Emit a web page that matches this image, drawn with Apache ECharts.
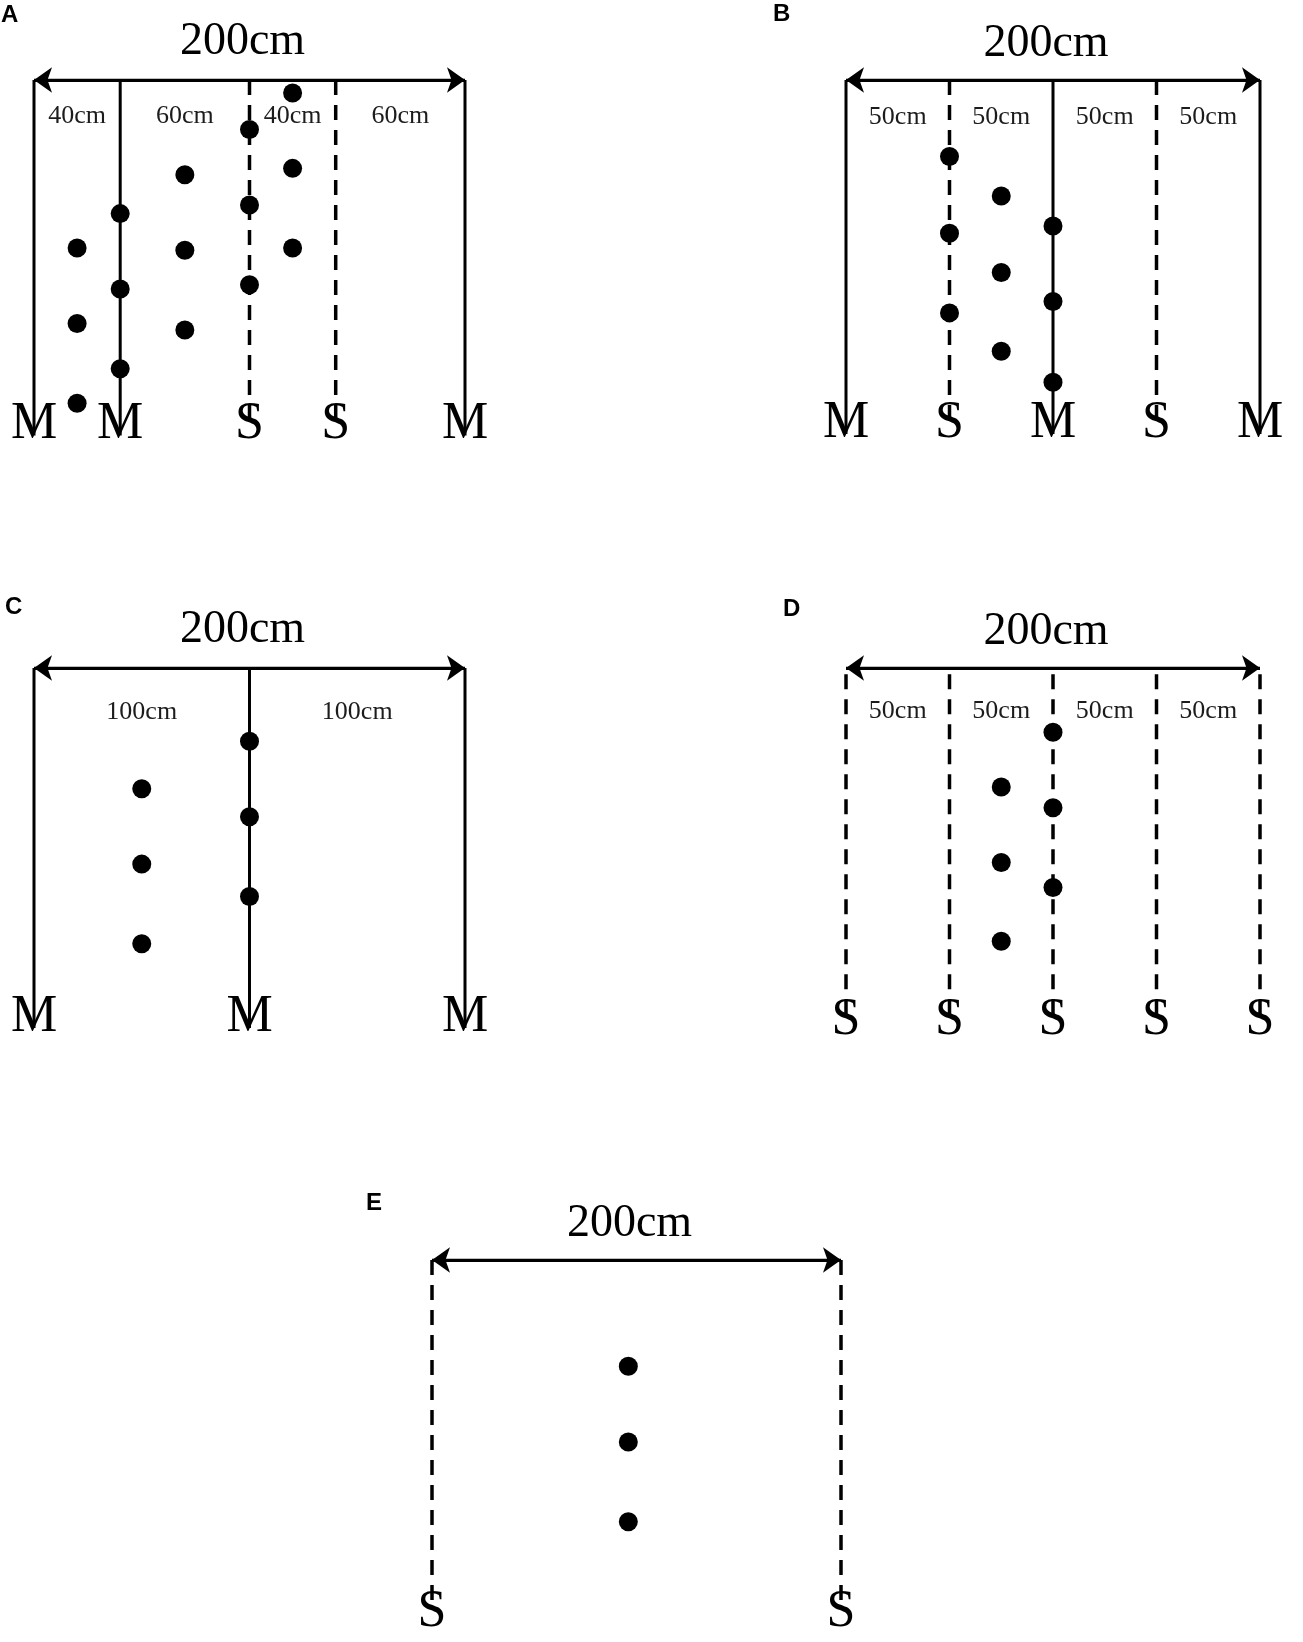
<!DOCTYPE html>
<html>
<head>
<meta charset="utf-8">
<script src="https://cdn.jsdelivr.net/npm/echarts@6/dist/echarts.min.js"></script>
<style>
html, body { margin: 0; padding: 0; background: #fff; }
#chart { width: 1303px; height: 1642px; }
</style>
</head>
<body>
<div id="chart"></div>
<script>
// planting layouts, all x positions in cm across a 200 cm strip
var spanTitle = '200cm';

var rowsA = [0, 40, 100, 140, 200];
var typesA = ['M', 'M', 'S', 'S', 'M'];
var spansA = ['40cm', '60cm', '40cm', '60cm'];
var dotsA = [[20, 78], [20, 113], [20, 150], [40, 62], [40, 97], [40, 134],
    [70, 44], [70, 79], [70, 116], [100, 23], [100, 58], [100, 95],
    [120, 6], [120, 41], [120, 78]];

var rowsB = [0, 50, 100, 150, 200];
var typesB = ['M', 'S', 'M', 'S', 'M'];
var spansB = ['50cm', '50cm', '50cm', '50cm'];
var dotsB = [[50, 37], [50, 74], [50, 112.5], [75, 56], [75, 93], [75, 131],
    [100, 70.5], [100, 107], [100, 146]];

var rowsC = [0, 100, 200];
var typesC = ['M', 'M', 'M'];
var spansC = ['100cm', '100cm'];
var dotsC = [[100, 34], [100, 69], [100, 106], [50, 56], [50, 91], [50, 128]];

var rowsD = [0, 50, 100, 150, 200];
var typesD = ['S', 'S', 'S', 'S', 'S'];
var spansD = ['50cm', '50cm', '50cm', '50cm'];
var dotsD = [[100, 31], [100, 67.5], [100, 106], [75, 57.5], [75, 94], [75, 132]];

var rowsE = [0, 200];
var typesE = ['S', 'S'];
var spansE = [];
var dotsE = [[96, 52], [96, 89], [96, 128]];

var panels = [
    { name: 'A', rows: rowsA, types: typesA, spans: spansA, dots: dotsA },
    { name: 'B', rows: rowsB, types: typesB, spans: spansB, dots: dotsB },
    { name: 'C', rows: rowsC, types: typesC, spans: spansC, dots: dotsC },
    { name: 'D', rows: rowsD, types: typesD, spans: spansD, dots: dotsD },
    { name: 'E', rows: rowsE, types: typesE, spans: spansE, dots: dotsE }
];

// where each panel sits on the page
var layouts = [
    { left: 34, top: 80, width: 431, labelY: 160, spanY: 17, lineStart: 0, letter: [1, 3] },
    { left: 846, top: 80, width: 414, labelY: 166, spanY: 18, lineStart: 0, letter: [773, 2] },
    { left: 34, top: 668, width: 431, labelY: 162, spanY: 20.5, lineStart: 0, letter: [5, 595] },
    { left: 846, top: 668, width: 414, labelY: 170, spanY: 21, lineStart: 3, letter: [783, 597] },
    { left: 432, top: 1260, width: 409, labelY: 172.5, spanY: 20, lineStart: 0, letter: [366, 1191] }
];

var serif = '"Liberation Serif", "Times New Roman", serif';
var Y_MAX = 180;

var grids = [], xAxes = [], yAxes = [], series = [], graphics = [];

panels.forEach(function (p, i) {
    var lay = layouts[i];
    grids.push({
        left: lay.left, top: lay.top, width: lay.width,
        height: Y_MAX * lay.width / 200
    });
    xAxes.push({ type: 'value', gridIndex: i, min: 0, max: 200, show: false });
    yAxes.push({ type: 'value', gridIndex: i, min: 0, max: Y_MAX, inverse: true, show: false });

    // row lines: solid for M, dashed for S
    p.rows.forEach(function (x, k) {
        var isM = p.types[k] === 'M';
        var start = isM ? 0 : lay.lineStart;
        var end = isM ? lay.labelY + 5 : lay.labelY - 2;
        series.push({
            type: 'line',
            xAxisIndex: i, yAxisIndex: i,
            data: [[x, start], [x, end]],
            symbol: 'none',
            silent: true,
            z: 2,
            lineStyle: {
                color: '#000',
                width: isM ? 3 : 3.5,
                type: isM ? 'solid' : [15, 10]
            }
        });
    });

    // the 200 cm double arrow
    series.push({
        type: 'line',
        xAxisIndex: i, yAxisIndex: i,
        data: [[0, 0], [200, 0]],
        symbol: 'none',
        silent: true,
        z: 3,
        lineStyle: { color: '#000', width: 3 },
        markLine: {
            silent: true,
            symbol: ['arrow', 'arrow'],
            symbolSize: [19, 18],
            symbolOffset: [0, 0],
            label: { show: false },
            lineStyle: { color: '#000', width: 3, type: 'solid', opacity: 1 },
            data: [[{ coord: [0, 0] }, { coord: [200, 0] }]]
        }
    });

    // plants
    series.push({
        type: 'scatter',
        xAxisIndex: i, yAxisIndex: i,
        data: p.dots,
        symbol: 'circle',
        symbolSize: 19,
        silent: true,
        z: 4,
        itemStyle: { color: '#000', opacity: 1 }
    });

    // texts: row letters, spacing labels, total width
    var texts = [];
    p.rows.forEach(function (x, k) {
        texts.push({ value: [x, lay.labelY], name: p.types[k], size: 52, color: '#000' });
    });
    p.spans.forEach(function (s, k) {
        var mid = (p.rows[k] + p.rows[k + 1]) / 2;
        texts.push({ value: [mid, lay.spanY], name: s, size: 26, color: '#1c1c1c' });
    });
    texts.push({ value: [100, -17.5], name: spanTitle, size: 46, color: '#000', dx: -7 });

    series.push({
        type: 'scatter',
        xAxisIndex: i, yAxisIndex: i,
        clip: false,
        silent: true,
        symbolSize: 0,
        z: 5,
        itemStyle: { color: 'rgba(0,0,0,0)', opacity: 1 },
        data: texts.map(function (t) {
            return {
                value: t.value,
                name: t.name,
                label: {
                    show: true,
                    position: 'inside',
                    offset: [t.dx || 0, 0],
                    formatter: '{b}',
                    fontFamily: serif,
                    fontSize: t.size,
                    color: t.color,
                    opacity: 1
                }
            };
        })
    });

    graphics.push({
        type: 'text',
        left: lay.letter[0],
        top: lay.letter[1],
        style: {
            text: p.name,
            font: 'bold 24px "Liberation Sans", Arial, sans-serif',
            fill: '#000'
        }
    });
});

var myChart = echarts.init(document.getElementById('chart'));

var option = {
    animation: false,
    backgroundColor: '#fff',
    grid: grids,
    xAxis: xAxes,
    yAxis: yAxes,
    graphic: graphics,
    series: series
};

myChart.setOption(option);
</script>
</body>
</html>
